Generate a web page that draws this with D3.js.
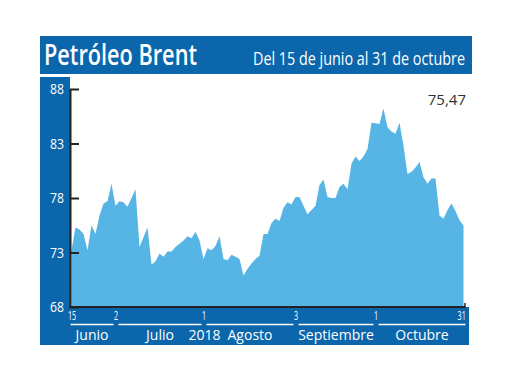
<!DOCTYPE html>
<html>
<head>
<meta charset="utf-8">
<script src="https://cdn.jsdelivr.net/npm/d3@7"></script>
<style>
  body { margin: 0; background: #fff; }
  svg { display: block; }
  text { font-family: "Open Sans", sans-serif; }
</style>
</head>
<body>
<svg id="chart" width="520" height="390"></svg>
<script>
// Brent daily close, 15 Jun - 31 Oct 2018 (trading days)
const prices = [
  73.2, 75.3, 75.1, 74.7, 73.2, 75.5, 74.7, 76.4, 77.5, 77.7,
  79.3, 77.3, 77.7, 77.6, 77.2, 78.0, 78.8, 73.5, 74.4, 75.3,
  71.9, 72.2, 72.9, 72.6, 73.1, 73.1, 73.5, 73.8, 74.1, 74.5,
  74.3, 74.9, 74.1, 72.4, 73.4, 73.2, 73.6, 74.5, 72.4, 72.3,
  72.8, 72.6, 72.4, 70.9, 71.5, 72.0, 72.4, 72.7, 74.7, 74.7,
  75.7, 76.1, 75.9, 77.1, 77.6, 77.4, 78.1, 78.1, 77.3, 76.5,
  76.9, 77.3, 79.2, 79.7, 78.1, 78.0, 78.0, 79.0, 79.3, 78.8,
  81.15, 81.8, 81.4, 81.8, 82.5, 84.9, 84.85, 84.8, 86.2, 84.5,
  84.1, 83.9, 84.9, 82.8, 80.2, 80.4, 80.8, 81.3, 79.9, 79.3,
  79.8, 79.8, 76.4, 76.1, 76.9, 77.5, 76.8, 75.95, 75.47
];
const yTicks = [68, 73, 78, 83, 88];
const dayTicks = [0, 11, 33, 56, 76, 98];
const dayLabels = ["15", "2", "1", "3", "1", "31"];
const months = ["Junio", "Julio", "Agosto", "Septiembre", "Octubre"];
const lastLabel = "75,47";

const svg = d3.select("#chart");
const dark = "#0b66ac";
const fill = "#56b5e4";

const x = d3.scaleLinear().domain([0, prices.length - 1]).range([71.5, 463.5]);
const y = d3.scaleLinear().domain([68, 88]).range([307, 89]);

// title bar
svg.append("rect").attr("x", 40).attr("y", 36).attr("width", 432).attr("height", 38).attr("fill", dark);
svg.append("text").attr("x", 44).attr("y", 65).attr("fill", "#fff")
  .attr("font-size", 29).attr("font-weight", 600)
  .attr("textLength", 153).attr("lengthAdjust", "spacingAndGlyphs").text("Petróleo Brent");
svg.append("text").attr("x", 253).attr("y", 65).attr("fill", "#fff")
  .attr("font-size", 18).attr("textLength", 212).attr("lengthAdjust", "spacingAndGlyphs")
  .text("Del 15 de junio al 31 de octubre");

// side and bottom panels
svg.append("rect").attr("x", 40).attr("y", 77).attr("width", 30).attr("height", 268).attr("fill", dark);
svg.append("rect").attr("x", 40).attr("y", 307).attr("width", 429).attr("height", 38).attr("fill", dark);

// area
const area = d3.area().x((d, i) => x(i)).y0(y(68)).y1(d => y(d));
svg.append("path").datum(prices).attr("d", area).attr("fill", fill);

// y axis
const yAxis = svg.append("g").attr("transform", "translate(70,0)")
  .call(d3.axisLeft(y).tickValues(yTicks).tickSizeInner(-9).tickSizeOuter(0).tickPadding(6));
yAxis.select(".domain").attr("stroke", "#222").attr("stroke-width", 2);
yAxis.selectAll(".tick line").attr("stroke", "#222").attr("stroke-width", 2);
yAxis.selectAll(".tick text").attr("fill", "#fff").attr("font-size", 15)
  .attr("textLength", 14).attr("lengthAdjust", "spacingAndGlyphs")
  .style("font-family", "'Open Sans', sans-serif");

// x axis baseline
svg.append("line").attr("x1", 69).attr("x2", x.range()[1] + 2)
  .attr("y1", y(68)).attr("y2", y(68)).attr("stroke", "#222").attr("stroke-width", 2);
svg.append("line").attr("x1", x.range()[1] + 1.5).attr("x2", x.range()[1] + 1.5)
  .attr("y1", y(68)).attr("y2", y(68) - 4).attr("stroke", "#222").attr("stroke-width", 1.5);

const xAxis = svg.append("g").attr("transform", `translate(0,${y(68)})`)
  .call(d3.axisBottom(x).tickValues(dayTicks).tickFormat((d, i) => dayLabels[i]).tickSize(0).tickPadding(4));
xAxis.select(".domain").remove();
xAxis.selectAll(".tick text").attr("fill", "#fff").attr("font-size", 12)
  .style("font-family", "'Open Sans', sans-serif")
  .attr("transform", "scale(0.6,1)");
xAxis.selectAll(".tick text").filter((d, i) => i === dayTicks.length - 1).attr("text-anchor", "end").attr("dx", 3);

// month segments
months.forEach((m, i) => {
  const x0 = x(dayTicks[i]) + (i === 0 ? -1 : 3);
  const x1 = x(dayTicks[i + 1]) - 2 + (i === months.length - 1 ? 4 : 0);
  svg.append("line").attr("x1", x0).attr("x2", x1).attr("y1", 324.5).attr("y2", 324.5)
    .attr("stroke", "#fff").attr("stroke-width", 1.5);
  svg.append("text").attr("x", (x0 + x1) / 2).attr("y", 340).attr("text-anchor", "middle")
    .attr("fill", "#fff").attr("font-size", 14).text(m);
});
svg.append("text").attr("x", x(dayTicks[2]) + 1).attr("y", 340).attr("text-anchor", "middle")
  .attr("fill", "#fff").attr("font-size", 14).text("2018");

// last value
svg.append("text").attr("x", 466).attr("y", 105).attr("text-anchor", "end")
  .attr("fill", "#333").attr("font-size", 15).text(lastLabel);
</script>
</body>
</html>
